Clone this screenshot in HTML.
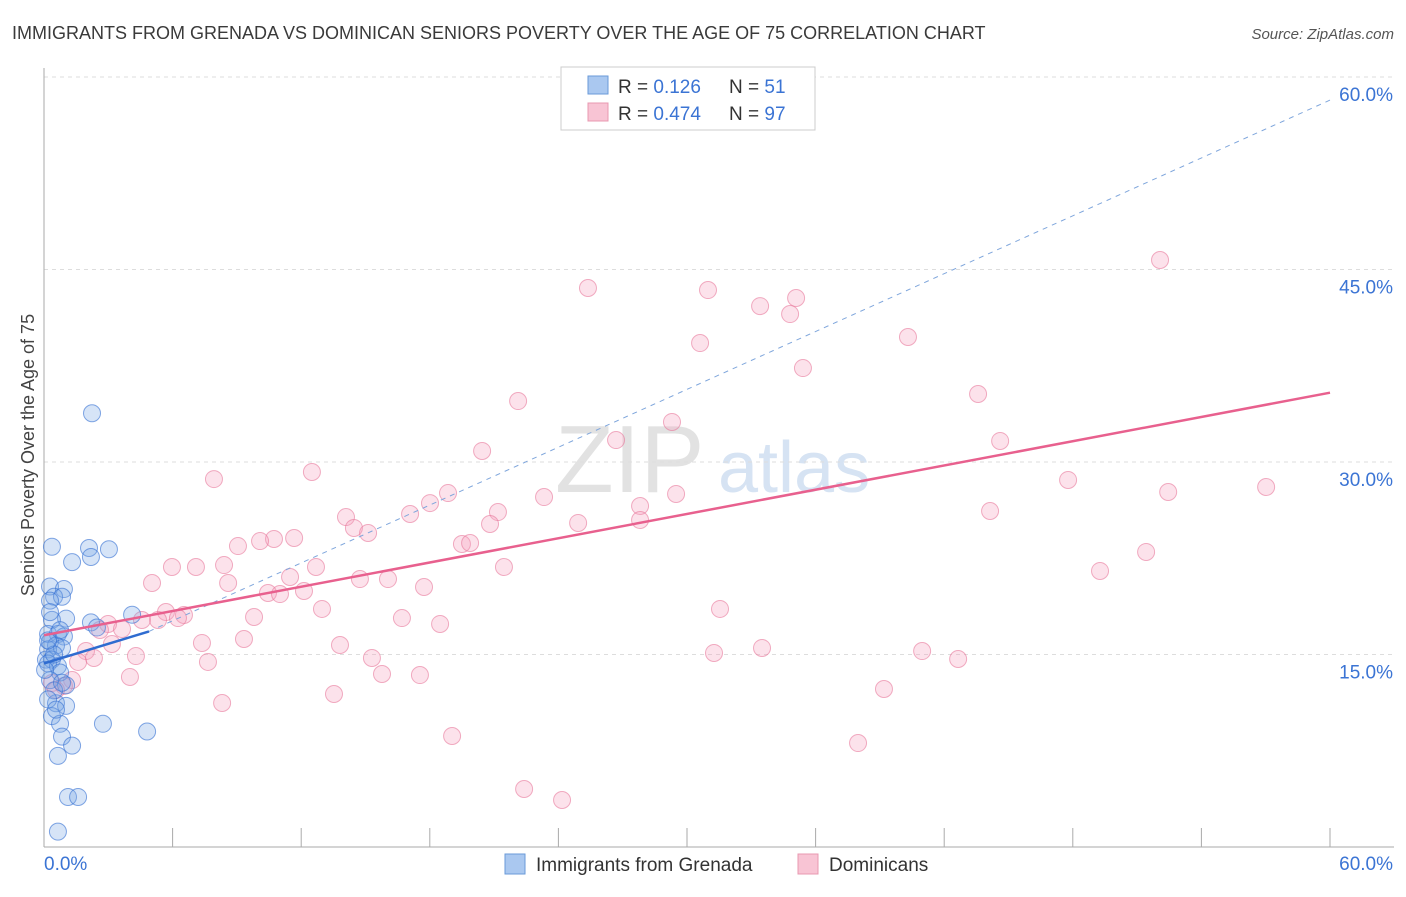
<!DOCTYPE html>
<html><head><meta charset="utf-8"><style>
body{margin:0;background:#fff;font-family:"Liberation Sans",sans-serif;}
svg text{font-family:"Liberation Sans",sans-serif;}
</style></head><body>
<svg id="chart" width="1406" height="892">
<text x="12" y="39" font-size="18" fill="#3a3a3a">IMMIGRANTS FROM GRENADA VS DOMINICAN SENIORS POVERTY OVER THE AGE OF 75 CORRELATION CHART</text>
<text x="1394" y="39" font-size="15" fill="#555" font-style="italic" text-anchor="end">Source: ZipAtlas.com</text>
<text x="0" y="0" transform="translate(34,455) rotate(-90)" font-size="18" fill="#444" text-anchor="middle">Seniors Poverty Over the Age of 75</text>
<g><text x="555" y="492" font-size="96" fill="#e2e2e2" font-family="Liberation Serif">ZIP</text><text x="718" y="492" font-size="72" fill="#d6e3f3">atlas</text></g>
<g id="grid"></g><g id="axes"></g><g id="marks"></g>
<g>
<rect x="561" y="67" width="254" height="63" fill="#fff" stroke="#ccc"/>
<rect x="588" y="76" width="20" height="18" fill="#aac8f0" stroke="#6a9ad8"/>
<rect x="588" y="103" width="20" height="18" fill="#f8c4d4" stroke="#e898b0"/>
<text x="618" y="93" font-size="19" fill="#333">R = <tspan fill="#3b74d4">0.126</tspan></text>
<text x="729" y="93" font-size="19" fill="#333">N = <tspan fill="#3b74d4"> 51</tspan></text>
<text x="618" y="120" font-size="19" fill="#333">R = <tspan fill="#3b74d4">0.474</tspan></text>
<text x="729" y="120" font-size="19" fill="#333">N = <tspan fill="#3b74d4">97</tspan></text>
</g>
<g>
<rect x="505" y="854" width="20" height="20" fill="#aac8f0" stroke="#6a9ad8"/>
<text x="536" y="871" font-size="19" fill="#333">Immigrants from Grenada</text>
<rect x="798" y="854" width="20" height="20" fill="#f8c4d4" stroke="#e898b0"/>
<text x="829" y="871" font-size="19" fill="#333">Dominicans</text>
</g>
</svg>
<script>
const yTicks=[15,30,45,60];
const yTickLabels=["15.0%","30.0%","45.0%","60.0%"];
const xTickLabels=["0.0%","60.0%"];
const blueX=[0.37,2.10,3.03,2.19,1.31,0.28,0.93,0.47,0.84,0.28,2.24,4.11,2.19,2.47,1.03,0.37,0.19,0.65,0.93,0.28,0.56,0.19,0.84,0.09,0.37,0.19,0.65,0.75,0.28,1.03,0.56,1.03,0.37,0.75,0.84,1.31,2.75,4.81,0.65,1.12,1.59,0.65,0.47,0.19,0.56,0.84,0.05,0.47,0.19,0.75,0.28];
const blueY=[23.4,23.3,23.2,22.6,22.2,20.3,20.1,19.5,19.5,19.2,33.8,18.1,17.5,17.1,17.8,17.7,16.6,16.6,16.4,16.0,15.7,15.4,15.5,14.6,14.6,14.3,14.1,13.6,13.0,12.6,11.2,11.0,10.2,9.6,8.6,7.9,9.6,9.0,7.1,3.9,3.9,1.2,12.2,11.5,10.7,12.8,13.8,15.0,16.1,16.9,18.3];
const pinkX=[52.07,25.38,30.98,35.09,33.41,34.81,40.31,30.61,35.41,22.12,43.58,29.30,26.69,20.44,44.61,12.50,7.93,47.78,57.02,52.45,29.49,18.85,23.33,18.01,21.18,17.08,27.81,27.81,44.14,14.09,24.92,20.81,14.46,15.12,9.05,10.73,11.67,10.08,19.50,19.88,51.42,8.40,5.97,7.09,12.69,21.46,49.27,5.04,8.59,11.48,14.74,16.05,17.73,12.13,10.45,11.01,31.54,12.97,5.69,6.53,6.25,5.32,4.57,9.80,16.70,18.48,2.99,3.64,3.17,9.33,7.37,13.81,33.50,1.96,4.29,40.97,31.26,2.33,1.59,15.30,42.65,7.65,15.77,17.54,4.01,0.37,1.31,0.93,39.19,13.53,8.31,19.04,37.98,22.40,24.17,0.56,2.61];
const pinkY=[45.74,43.56,43.40,42.78,42.15,41.53,39.74,39.27,37.32,34.75,35.30,33.12,31.71,30.86,31.64,29.22,28.67,28.60,28.05,27.66,27.51,27.58,27.27,26.80,26.10,25.95,26.57,25.48,26.18,25.71,25.25,25.17,24.86,24.47,23.45,24.00,24.08,23.84,23.61,23.69,22.99,21.97,21.82,21.82,21.82,21.82,21.51,20.57,20.57,21.04,20.88,20.88,20.26,19.95,19.79,19.71,18.55,18.55,18.31,18.08,17.84,17.69,17.69,17.92,17.84,17.38,17.38,16.99,15.82,16.21,15.90,15.74,15.51,15.27,14.88,15.27,15.12,14.73,14.42,14.73,14.65,14.42,13.48,13.40,13.25,12.78,13.01,12.55,12.31,11.92,11.22,8.65,8.10,4.52,3.66,12.23,16.91];
const blueTrendX=[0,4.9], blueTrendY=[14.3,16.8];
const blueDashX=[4.9,60], blueDashY=[16.8,58.2];
const pinkTrendX=[0,60], pinkTrendY=[16.5,35.4];
const NS="http://www.w3.org/2000/svg";
const sx=v=>44+v/60*1286, sy=v=>847-v/15*192.5;
function mk(tag,attrs,parent){const e=document.createElementNS(NS,tag);for(const k in attrs)e.setAttribute(k,attrs[k]);document.getElementById(parent).appendChild(e);return e;}
yTicks.forEach((t,i)=>{
 const g=mk('line',{x1:44,x2:1394,y1:sy(t),y2:sy(t),stroke:'#ddd','stroke-dasharray':'4,4'},'grid');
 
 
 const l=mk('text',{x:1393,y:sy(t)+24,'font-size':19,fill:'#3b74d4','text-anchor':'end'},'axes');l.textContent=yTickLabels[i];
 
 
});
const ax=mk('line',{x1:44,x2:44,y1:68,y2:847,stroke:'#aaa'},'axes');


const bx=mk('line',{x1:44,x2:1394,y1:847,y2:847,stroke:'#aaa'},'axes');


for(let i=1;i<=10;i++){const t=mk('line',{x1:sx(i*6),x2:sx(i*6),y1:828,y2:847,stroke:'#aaa'},'axes');
 
 }
[[0,'start',44],[60,'end',1393]].forEach((d,i)=>{const t=mk('text',{x:d[2],y:870,'font-size':19,fill:'#3b74d4','text-anchor':d[1]},'axes');t.textContent=xTickLabels[i];
 
 });
pinkX.forEach((x,i)=>{const c=mk('circle',{cx:sx(x),cy:sy(pinkY[i]),r:8.5,fill:'rgba(244,160,188,0.3)',stroke:'rgba(232,120,155,0.6)','stroke-width':1},'marks');
 
 });
blueX.forEach((x,i)=>{const c=mk('circle',{cx:sx(x),cy:sy(blueY[i]),r:8.5,fill:'rgba(120,165,230,0.3)',stroke:'rgba(50,110,210,0.6)','stroke-width':1},'marks');
 
 });
const d1=mk('line',{x1:sx(blueDashX[0]),y1:sy(blueDashY[0]),x2:sx(blueDashX[1]),y2:sy(blueDashY[1]),stroke:'#7fa6dc','stroke-width':1,'stroke-dasharray':'5,5'},'marks');


const p1=mk('line',{x1:sx(pinkTrendX[0]),y1:sy(pinkTrendY[0]),x2:sx(pinkTrendX[1]),y2:sy(pinkTrendY[1]),stroke:'#e8608e','stroke-width':2.5},'marks');


const b1=mk('line',{x1:sx(blueTrendX[0]),y1:sy(blueTrendY[0]),x2:sx(blueTrendX[1]),y2:sy(blueTrendY[1]),stroke:'#2f6cd0','stroke-width':2.5},'marks');


</script>
</body></html>
